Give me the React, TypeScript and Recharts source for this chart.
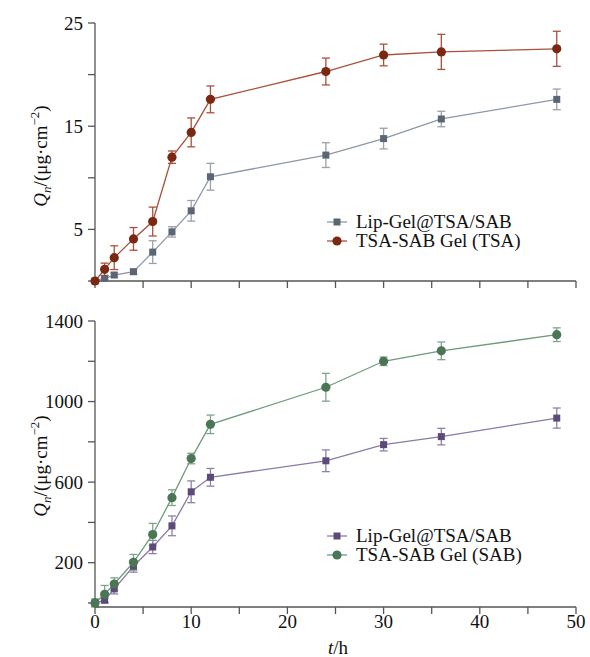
import React from 'react';
import { ComposedChart, Line, XAxis, YAxis, ErrorBar } from 'recharts';

const hours = [0, 1, 2, 4, 6, 8, 10, 12, 24, 30, 36, 48];

// top panel (TSA)
const tsaLip = [0, 0.26, 0.58, 0.9, 2.8, 4.76, 6.8, 10.1, 12.2, 13.8, 15.7, 17.6];
const tsaLipErr = [0, 0.1, 0.2, 0.25, 1.1, 0.5, 1.0, 1.3, 1.2, 1.0, 0.75, 1.0];
const tsaGel = [0, 1.13, 2.26, 4.08, 5.76, 12.0, 14.4, 17.6, 20.3, 21.9, 22.2, 22.5];
const tsaGelErr = [0, 0.6, 1.15, 1.1, 1.4, 0.6, 1.4, 1.3, 1.3, 1.05, 1.7, 1.7];

// bottom panel (SAB)
const sabLip = [0, 14, 70, 182, 278, 383, 552, 624, 706, 786, 826, 918];
const sabLipErr = [0, 10, 25, 29, 33, 49, 54, 44, 54, 31, 41, 50];
const sabGel = [0, 43, 94, 202, 340, 523, 717, 887, 1071, 1200, 1252, 1332];
const sabGelErr = [20, 44, 31, 39, 55, 39, 26, 46, 69, 21, 44, 34];

const xTicks = [0, 5, 10, 15, 20, 25, 30, 35, 40, 45, 50];
const tsaTicks = [0, 5, 10, 15, 20, 25];
const tsaLabeled = [5, 15, 25];
const sabTicks = [0, 200, 400, 600, 800, 1000, 1200, 1400];
const sabLabeled = [200, 600, 1000, 1400];

const tsaNames = ['Lip-Gel@TSA/SAB', 'TSA-SAB Gel (TSA)'];
const sabNames = ['Lip-Gel@TSA/SAB', 'TSA-SAB Gel (SAB)'];

const tsaData = hours.map((t, i) => ({
  t, lip: tsaLip[i], lipErr: tsaLipErr[i], gel: tsaGel[i], gelErr: tsaGelErr[i],
}));
const sabData = hours.map((t, i) => ({
  t, lip: sabLip[i], lipErr: sabLipErr[i], gel: sabGel[i], gelErr: sabGelErr[i],
}));

const FONT = "'Times New Roman', Times, Tinos, 'Nimbus Roman', 'Nimbus Roman No9 L', FreeSerif, 'Noto Serif', 'Liberation Serif', serif";
const AXIS = '#555';

const colors = {
  tsaLip: { marker: '#5b6573', line: '#8d98a6', err: '#98a1ac' },
  tsaGel: { marker: '#7b2812', line: '#a9513b', err: '#a9513b' },
  sabLip: { marker: '#5c4a78', line: '#8b7aa6', err: '#8f80a8' },
  sabGel: { marker: '#4b7656', line: '#6f9b7c', err: '#7fa58a' },
};

const square = (fill: string) => (p: any) => (
  <rect key={`s${p.index}`} x={p.cx - 3.5} y={p.cy - 3.5} width={7} height={7} fill={fill} />
);
const circle = (fill: string) => (p: any) => (
  <circle key={`c${p.index}`} cx={p.cx} cy={p.cy} r={4.6} fill={fill} />
);

const YLabel = ({ cy }: { cy: number }) => (
  <text
    x={47}
    y={cy}
    transform={`rotate(-90, 47, ${cy})`}
    textAnchor="middle"
    style={{ fontFamily: FONT }}
    fontSize={19}
    fill="#111"
  >
    <tspan fontStyle="italic">Q</tspan>
    <tspan fontStyle="italic" fontSize={13} dy={4}>n</tspan>
    <tspan dy={-4}>/(μg·cm</tspan>
    <tspan fontSize={13} dy={-8}>−2</tspan>
    <tspan dy={8}>)</tspan>
  </text>
);

const LegendBox = ({ names, c1, c2, left, top }: any) => (
  <div style={{ position: 'absolute', left, top, fontFamily: FONT, fontSize: 19, color: '#111', lineHeight: '19px' }}>
    {names.map((n: string, i: number) => (
      <div key={n} style={{ display: 'flex', alignItems: 'center', height: 19 }}>
        <svg width={22} height={19} style={{ marginRight: 8 }}>
          <line x1={1} x2={21} y1={10} y2={10} stroke={i === 0 ? c1.line : c2.line} strokeWidth={1.3} />
          {i === 0 ? (
            <rect x={7.5} y={6.5} width={7} height={7} fill={c1.marker} />
          ) : (
            <circle cx={11} cy={10} r={4.6} fill={c2.marker} />
          )}
        </svg>
        <span>{n}</span>
      </div>
    ))}
  </div>
);

const tickStyle = { fontFamily: FONT, style: { fontFamily: FONT }, fontSize: 19, fill: '#111' };

const App: React.FC = () => {
  return (
    <div style={{ position: 'absolute', left: 0, top: 0, width: 590, height: 657, background: '#fff', fontFamily: FONT }}>
      <div style={{ position: 'absolute', left: 0, top: 0 }}>
        <ComposedChart width={590} height={300} data={tsaData} margin={{ top: 23, right: 14, left: 0, bottom: 0 }}>
          <XAxis
            dataKey="t"
            type="number"
            domain={[0, 50]}
            ticks={xTicks}
            height={19}
            tickSize={7}
            tick={() => <g />}
            stroke={AXIS}
            strokeWidth={1.3}
          />
          <YAxis
            type="number"
            domain={[0, 25]}
            ticks={tsaTicks}
            width={95}
            tickSize={7}
            tickMargin={5}
            tick={tickStyle}
            tickFormatter={(v: number) => (tsaLabeled.includes(v) ? String(v) : '')}
            stroke={AXIS}
            strokeWidth={1.3}
            label={{ content: () => <YLabel cy={156} /> }}
          />
          <Line
            dataKey="lip"
            stroke={colors.tsaLip.line}
            strokeWidth={1.3}
            dot={square(colors.tsaLip.marker)}
            isAnimationActive={false}
          >
            <ErrorBar dataKey="lipErr" direction="y" width={4} stroke={colors.tsaLip.err} strokeWidth={1.3} />
          </Line>
          <Line
            dataKey="gel"
            stroke={colors.tsaGel.line}
            strokeWidth={1.3}
            dot={circle(colors.tsaGel.marker)}
            isAnimationActive={false}
          >
            <ErrorBar dataKey="gelErr" direction="y" width={4} stroke={colors.tsaGel.err} strokeWidth={1.3} />
          </Line>
        </ComposedChart>
      </div>
      <LegendBox names={tsaNames} c1={colors.tsaLip} c2={colors.tsaGel} left={326} top={212} />
      <div style={{ position: 'absolute', left: 0, top: 300 }}>
        <ComposedChart width={590} height={357} data={sabData} margin={{ top: 21, right: 14, left: 0, bottom: 0 }}>
          <XAxis
            dataKey="t"
            type="number"
            domain={[0, 50]}
            ticks={xTicks}
            height={50}
            tickSize={7}
            tickMargin={1}
            tick={tickStyle}
            tickFormatter={(v: number) => (v % 10 === 0 ? String(v) : '')}
            stroke={AXIS}
            strokeWidth={1.3}
            label={{
              content: () => (
                <text x={338} y={354} textAnchor="middle" style={{ fontFamily: FONT }} fontSize={19} fill="#111">
                  <tspan fontStyle="italic">t</tspan>
                  <tspan>/h</tspan>
                </text>
              ),
            }}
          />
          <YAxis
            type="number"
            domain={[0, 1400]}
            ticks={sabTicks}
            width={95}
            tickSize={7}
            tickMargin={5}
            tick={tickStyle}
            tickFormatter={(v: number) => (sabLabeled.includes(v) ? String(v) : '')}
            stroke={AXIS}
            strokeWidth={1.3}
            label={{ content: () => <YLabel cy={166} /> }}
          />
          <Line
            dataKey="lip"
            stroke={colors.sabLip.line}
            strokeWidth={1.3}
            dot={square(colors.sabLip.marker)}
            isAnimationActive={false}
          >
            <ErrorBar dataKey="lipErr" direction="y" width={4} stroke={colors.sabLip.err} strokeWidth={1.3} />
          </Line>
          <Line
            dataKey="gel"
            stroke={colors.sabGel.line}
            strokeWidth={1.3}
            dot={circle(colors.sabGel.marker)}
            isAnimationActive={false}
          >
            <ErrorBar dataKey="gelErr" direction="y" width={4} stroke={colors.sabGel.err} strokeWidth={1.3} />
          </Line>
        </ComposedChart>
      </div>
      <LegendBox names={sabNames} c1={colors.sabLip} c2={colors.sabGel} left={326} top={526} />
    </div>
  );
};

export default App;
